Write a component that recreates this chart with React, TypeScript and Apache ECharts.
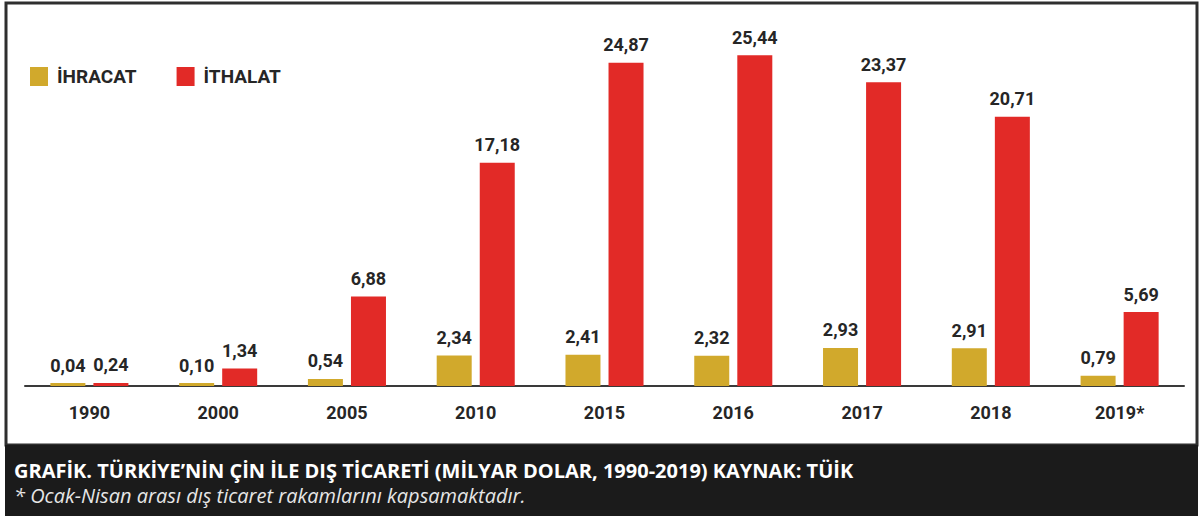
import React, { useEffect, useRef } from "react";
import * as echarts from "echarts";

const categories = ["1990", "2000", "2005", "2010", "2015", "2016", "2017", "2018", "2019*"];
const ihracat = [0.04, 0.1, 0.54, 2.34, 2.41, 2.32, 2.93, 2.91, 0.79];
const ithalat = [0.24, 1.34, 6.88, 17.18, 24.87, 25.44, 23.37, 20.71, 5.69];
const seriesNames = ["İHRACAT", "İTHALAT"];
const titleText = "GRAFİK. TÜRKİYE’NİN ÇİN İLE DIŞ TİCARETİ (MİLYAR DOLAR, 1990-2019) KAYNAK: TÜİK";
const noteText = "* Ocak-Nisan arası dış ticaret rakamlarını kapsamaktadır.";

const COND = "Roboto, 'Liberation Sans', sans-serif";
const YELLOW = "#d1a92c";
const RED = "#e22a27";

const fmt = (v: number) => v.toFixed(2).replace(".", ",");

export default function App() {
  const ref = useRef<HTMLDivElement>(null);
  useEffect(() => {
    if (!ref.current) return;
    const chart = echarts.init(ref.current, undefined, { renderer: "svg" });
    const label = {
      show: true,
      position: "top" as const,
      distance: 9,
      fontFamily: COND,
      fontWeight: "bold" as const,
      fontSize: 18,
      color: "#262626",
      formatter: (p: any) => fmt(p.value),
    };
    chart.setOption({
      animation: false,
      backgroundColor: "#fff",
      legend: {
        left: 25,
        top: 62,
        icon: "rect",
        itemWidth: 18,
        itemHeight: 19,
        itemGap: 40,
        textStyle: {
          fontFamily: COND,
          fontWeight: "bold",
          fontSize: 19,
          color: "#262626",
          padding: [0, 0, 0, 4],
        },
        data: seriesNames,
      },
      grid: { left: 25, right: 18, top: 22, bottom: 134 },
      xAxis: {
        type: "category",
        data: categories,
        axisLine: { lineStyle: { color: "#3a3a3a", width: 2 } },
        axisTick: { show: false },
        axisLabel: {
          margin: 17,
          fontFamily: COND,
          fontWeight: "bold",
          fontSize: 18,
          color: "#262626",
        },
      },
      yAxis: { type: "value", min: 0, max: 28, show: false, splitLine: { show: false } },
      series: [
        {
          name: seriesNames[0],
          type: "bar",
          data: ihracat,
          barWidth: 35,
          barGap: "23%",
          barMinHeight: 3,
          itemStyle: { color: YELLOW },
          label,
        },
        {
          name: seriesNames[1],
          type: "bar",
          data: ithalat,
          barWidth: 35,
          barMinHeight: 3,
          itemStyle: { color: RED },
          label,
        },
      ],
      graphic: [
        {
          type: "rect",
          shape: { x: 6, y: 3, width: 1191, height: 442 },
          style: { fill: "none", stroke: "#2e2e2e", lineWidth: 3 },
          silent: true,
        },
        {
          type: "rect",
          shape: { x: 5, y: 445, width: 1193, height: 71 },
          style: { fill: "#1b1b1b" },
          silent: true,
        },
        {
          type: "text",
          x: 14,
          y: 470,
          style: {
            text: titleText,
            fill: "#ffffff",
            font: "bold 20px 'Open Sans', sans-serif",
            verticalAlign: "middle",
          },
        },
        {
          type: "text",
          x: 14,
          y: 495,
          style: {
            text: noteText,
            fill: "#e6e6e6",
            font: "italic 20px 'Open Sans', sans-serif",
            verticalAlign: "middle",
          },
        },
      ],
    });
    return () => chart.dispose();
  }, []);
  return (
    <div
      ref={ref}
      style={{ position: "absolute", left: 0, top: 0, width: 1202, height: 520 }}
    />
  );
}
